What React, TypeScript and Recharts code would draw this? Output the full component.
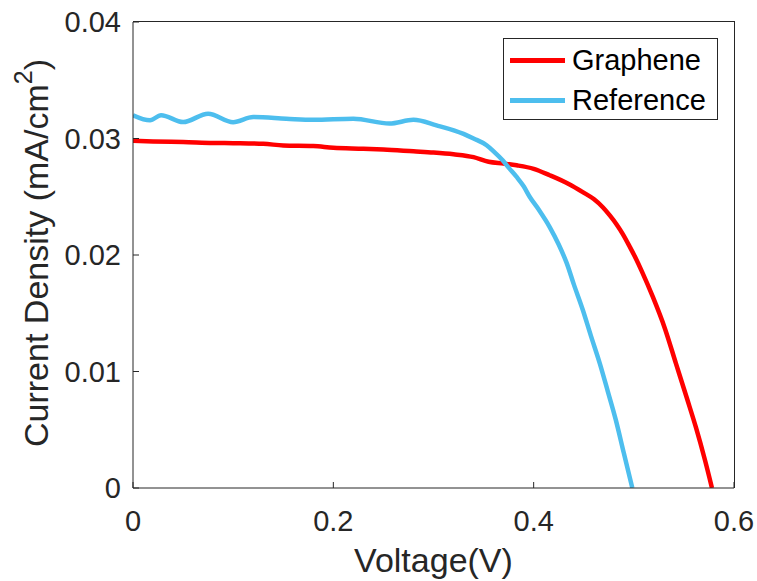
import React from 'react';
import { LineChart, Line, XAxis, YAxis } from 'recharts';

const grapheneV = [0, 0.02, 0.05, 0.08, 0.1, 0.13, 0.15, 0.18, 0.2, 0.23, 0.25, 0.28, 0.3, 0.32, 0.34, 0.355, 0.37, 0.383, 0.4, 0.416, 0.435, 0.449, 0.46, 0.469, 0.476, 0.483, 0.489, 0.496, 0.502, 0.508, 0.519, 0.531, 0.542, 0.553, 0.562, 0.571, 0.578];
const grapheneJ = [0.0298, 0.02975, 0.0297, 0.02962, 0.0296, 0.02955, 0.0294, 0.02935, 0.0292, 0.02912, 0.02905, 0.0289, 0.0288, 0.02865, 0.0284, 0.028, 0.02785, 0.0277, 0.0274, 0.02685, 0.0261, 0.0254, 0.0248, 0.0241, 0.0234, 0.0226, 0.0218, 0.0207, 0.0197, 0.0186, 0.0164, 0.0137, 0.0107, 0.0077, 0.0052, 0.0024, 0];

const referenceV = [0, 0.017, 0.028, 0.05, 0.075, 0.1, 0.12, 0.153, 0.18, 0.22, 0.256, 0.28, 0.303, 0.33, 0.34, 0.353, 0.36, 0.369, 0.375, 0.383, 0.39, 0.396, 0.405, 0.416, 0.425, 0.433, 0.44, 0.449, 0.457, 0.466, 0.474, 0.482, 0.49, 0.4985];
const referenceJ = [0.032, 0.03156, 0.032, 0.03141, 0.03213, 0.0314, 0.03184, 0.0317, 0.0316, 0.0317, 0.03128, 0.0316, 0.03113, 0.0304, 0.03, 0.02942, 0.0289, 0.02813, 0.0275, 0.0267, 0.0259, 0.025, 0.0239, 0.0224, 0.0209, 0.0193, 0.0175, 0.0153, 0.0131, 0.0107, 0.0083, 0.00585, 0.003, 0];

const xTicks = [0, 0.2, 0.4, 0.6];
const yTicks = [0, 0.01, 0.02, 0.03, 0.04];

const seriesNames = ['Graphene', 'Reference'];
const seriesColors = ['#FF0000', '#4DBEEE'];

const grapheneData = grapheneV.map((v, i) => ({ v, j: grapheneJ[i] }));
const referenceData = referenceV.map((v, i) => ({ v, j: referenceJ[i] }));

const FONT = 'Liberation Sans, Arial, Helvetica, sans-serif';
const AX = '#262626';

const YLabel = (props: any) => {
  const vb = props.viewBox || {};
  const cx = 36;
  const cy = vb.y + vb.height / 2 - 2;
  return (
    <text
      x={cx}
      y={cy}
      transform={`rotate(-90, ${cx}, ${cy})`}
      textAnchor="middle"
      dominantBaseline="central"
      fontFamily={FONT}
      fontSize={34}
      fill={AX}
    >
      <tspan>Current Density (mA/cm</tspan>
      <tspan dy={-13} fontSize={25}>2</tspan>
      <tspan dy={13}>)</tspan>
    </text>
  );
};

const XLabel = (props: any) => {
  const vb = props.viewBox || {};
  return (
    <text
      x={vb.x + vb.width / 2}
      y={572}
      textAnchor="middle"
      fontFamily={FONT}
      fontSize={34}
      fill={AX}
    >
      Voltage(V)
    </text>
  );
};

export default function App() {
  return (
    <div style={{ position: 'absolute', left: 0, top: 0, width: 757, height: 581, background: '#fff' }}>
      <LineChart
        width={757}
        height={581}
        margin={{ top: 21, right: 22, bottom: 0, left: 0 }}
        style={{ fontFamily: FONT }}
      >
        <XAxis
          xAxisId="b"
          type="number"
          dataKey="v"
          domain={[0, 0.6]}
          ticks={xTicks}
          allowDataOverflow
          height={93}
          tickSize={-6}
          tickMargin={28}
          stroke={AX}
          tick={{ fill: AX, fontSize: 29, fontFamily: FONT }}
          label={<XLabel />}
        />
        <XAxis
          xAxisId="t"
          orientation="top"
          type="number"
          dataKey="v"
          domain={[0, 0.6]}
          ticks={xTicks}
          allowDataOverflow
          height={1}
          tickSize={-6}
          tick={false}
          axisLine={false}
          stroke={AX}
        />
        <YAxis
          yAxisId="l"
          type="number"
          domain={[0, 0.04]}
          ticks={yTicks}
          allowDataOverflow
          width={133}
          tickSize={-6}
          tickMargin={18}
          stroke={AX}
          tick={{ fill: AX, fontSize: 29, fontFamily: FONT }}
          label={<YLabel />}
        />
        <YAxis
          yAxisId="r"
          orientation="right"
          type="number"
          domain={[0, 0.04]}
          ticks={yTicks}
          allowDataOverflow
          width={1}
          tickSize={-6}
          tick={false}
          axisLine={false}
          stroke={AX}
        />
        <Line
          xAxisId="b"
          yAxisId="l"
          data={grapheneData}
          dataKey="j"
          name={seriesNames[0]}
          type="monotone"
          stroke={seriesColors[0]}
          strokeWidth={4.5}
          dot={false}
          isAnimationActive={false}
        />
        <Line
          xAxisId="b"
          yAxisId="l"
          data={referenceData}
          dataKey="j"
          name={seriesNames[1]}
          type="monotone"
          stroke={seriesColors[1]}
          strokeWidth={4.5}
          dot={false}
          isAnimationActive={false}
        />
      </LineChart>
      <div
        style={{
          position: 'absolute',
          left: 133,
          top: 21,
          width: 601,
          height: 466,
          borderTop: '1px solid #262626',
          borderRight: '1px solid #262626',
          pointerEvents: 'none',
        }}
      />
      <div
        style={{
          position: 'absolute',
          left: 503,
          top: 38,
          width: 213,
          height: 80,
          border: '1px solid #262626',
          background: '#fff',
          fontFamily: FONT,
          fontSize: 29,
          color: '#000',
        }}
      >
        {seriesNames.map((n, i) => (
          <div
            key={n}
            style={{ position: 'absolute', left: 6, top: i === 0 ? 4 : 44, height: 34, display: 'flex', alignItems: 'center' }}
          >
            <div style={{ width: 55, height: 5, background: seriesColors[i], marginRight: 7 }} />
            <span style={{ lineHeight: '34px' }}>{n}</span>
          </div>
        ))}
      </div>
    </div>
  );
}
